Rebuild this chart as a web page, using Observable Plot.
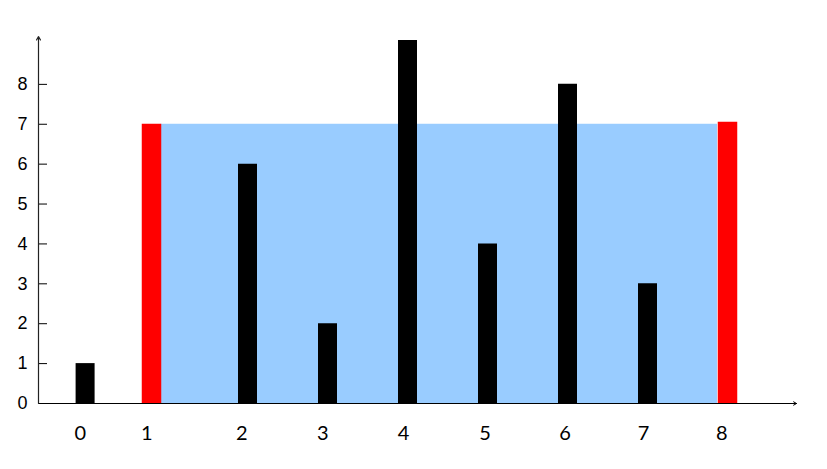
<!DOCTYPE html>
<html>
<head>
<meta charset="utf-8">
<script src="https://cdn.jsdelivr.net/npm/d3@7"></script>
<script src="https://cdn.jsdelivr.net/npm/@observablehq/plot@0.6"></script>
<style>
  html, body { margin: 0; padding: 0; background: #fff; }
  svg { display: block; }
</style>
</head>
<body>
<div id="chart"></div>
<script>
// Data
const indices   = [0, 1, 2, 3, 4, 5, 6, 7, 8];
const barPos    = [-0.03, 0.8, 2, 3, 4, 5, 6, 7, 8];
const heights   = [1, 7, 6, 2, 9.1, 4, 8, 3, 7.05];
const isWall    = [false, true, false, false, false, false, false, false, true];
const labelPos  = [-0.09, 0.74, 1.93, 2.94, 3.95, 4.97, 5.97, 6.95, 7.93];
const yTicks    = [0, 1, 2, 3, 4, 5, 6, 7, 8];
const waterLevel = 7;
const leftWall = 1, rightWall = 8;

const xMin = -0.6125, xMax = 8.8625;
const yMin = 0, yMax = 9.2;

const bars = indices.map((i) => ({i, pos: barPos[i], h: heights[i], wall: isWall[i]}));
const labels = indices.map((i) => ({text: String(i), pos: labelPos[i]}));
const water = [{x1: barPos[leftWall], x2: barPos[rightWall], y: waterLevel}];

const chart = Plot.plot({
  width: 827,
  height: 469,
  marginLeft: 38,
  marginRight: 31,
  marginTop: 36,
  marginBottom: 66,
  x: {type: "linear", domain: [xMin, xMax], axis: null},
  y: {type: "linear", domain: [yMin, yMax], axis: null},
  marks: [
    // water area
    Plot.rect(water, {x1: "x1", x2: "x2", y1: 0, y2: "y", fill: "#99ccff", insetLeft: 9.5, insetRight: 10}),
    // black bars
    Plot.ruleX(bars.filter(d => !d.wall), {x: "pos", y1: 0, y2: "h", stroke: "#000", strokeWidth: 19}),
    // red walls
    Plot.ruleX(bars.filter(d => d.wall), {x: "pos", y1: 0, y2: "h", stroke: "#ff0000", strokeWidth: 19.5}),
    // y ticks
    Plot.ruleY(yTicks, {y: d => d, x1: xMin, x2: xMin + 9 / 80, stroke: "#000", strokeWidth: 1}),
    // axes with arrows
    Plot.arrow([0], {x1: xMin, y1: yMin, x2: xMax, y2: yMin, stroke: "#000", strokeWidth: 1, headLength: 5}),
    Plot.arrow([0], {x1: xMin, y1: yMin, x2: xMin, y2: yMax, stroke: "#222", strokeWidth: 1.2, headLength: 5}),
    // y tick labels
    Plot.text(yTicks, {x: xMin, y: d => d, text: d => String(d), dx: -16, textAnchor: "middle",
      fontSize: 18, fontFamily: "Liberation Sans, Arial, sans-serif", fill: "#000"}),
    // x labels
    Plot.text(labels, {x: "pos", y: 0, text: "text", dy: 30, textAnchor: "middle",
      fontSize: 20, fontFamily: "Lato, Carlito, sans-serif", fill: "#000"})
  ]
});
document.getElementById("chart").appendChild(chart);
</script>
</body>
</html>
